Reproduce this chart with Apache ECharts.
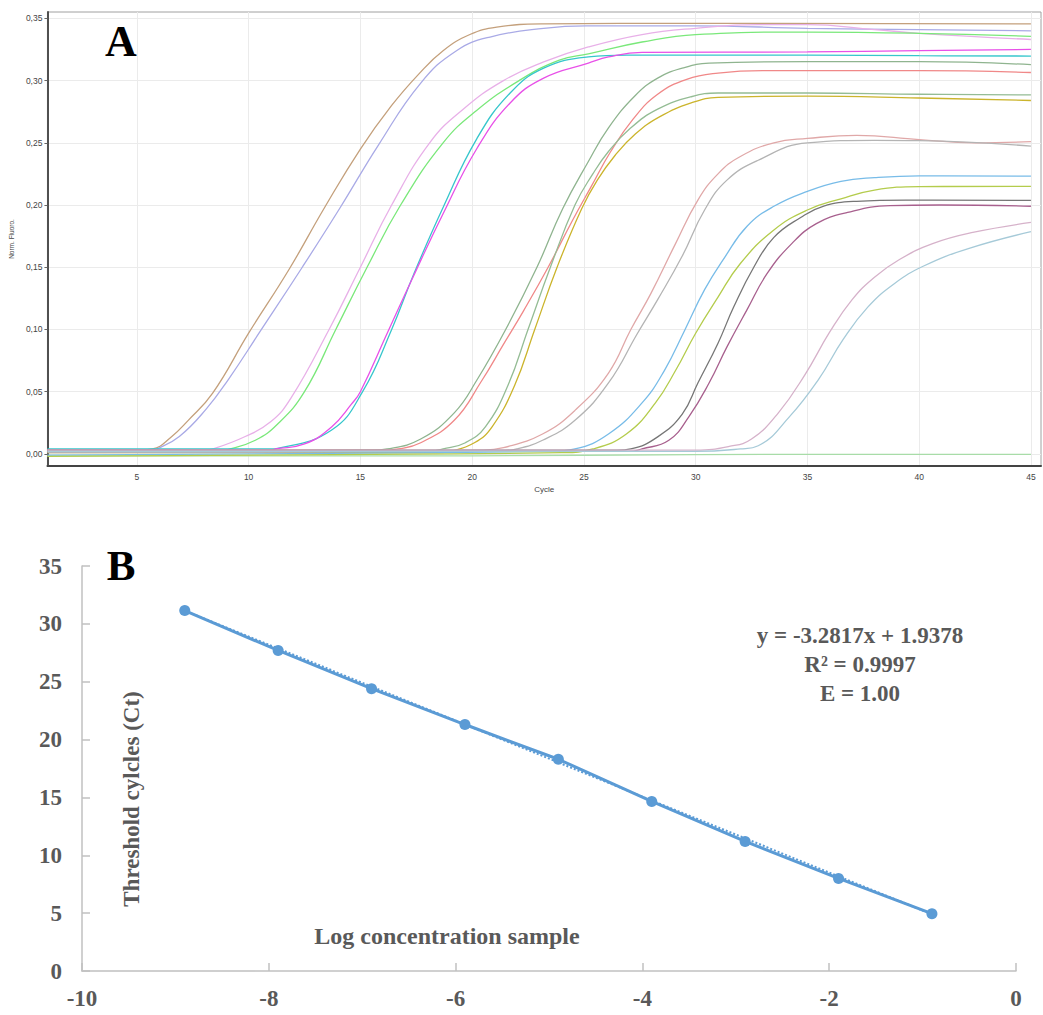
<!DOCTYPE html>
<html>
<head>
<meta charset="utf-8">
<script src="https://cdn.jsdelivr.net/npm/echarts@6/dist/echarts.min.js"></script>
<style>
html,body{margin:0;padding:0;background:#fff;}
#chart{width:1043px;height:1015px;}
</style>
</head>
<body>
<div id="chart"></div>
<script>
// ---------- Panel A: amplification curves [cycle, normalized fluorescence] ----------
const curveBrown = [[1,0.003],[5,0.003],[5.7,0.004],[6.5,0.013],[7.3,0.027],[8.4,0.049],[10,0.097],[11.8,0.148],[13.4,0.198],[15,0.245],[16.4,0.28],[17.6,0.305],[18.7,0.324],[19.9,0.337],[21.1,0.343],[23.2,0.3455],[30,0.346],[45,0.3455]];
const curveLavender = [[1,0.002],[5.5,0.002],[5.9,0.004],[6.9,0.014],[8.1,0.036],[9.1,0.06],[10.5,0.098],[12.4,0.15],[14.1,0.198],[15.8,0.248],[17.7,0.298],[19.3,0.324],[20.8,0.335],[23.2,0.342],[25.1,0.344],[30,0.344],[35,0.342],[40,0.341],[45,0.340]];
const curvePink = [[1,0.003],[8,0.003],[8.4,0.004],[9.85,0.014],[11,0.026],[11.9,0.045],[13.6,0.10],[15,0.15],[16.4,0.20],[18.1,0.25],[19.6,0.277],[21.4,0.30],[23.2,0.315],[25.2,0.327],[27.6,0.337],[30,0.342],[32.8,0.345],[35,0.345],[38,0.341],[40,0.338],[45,0.333]];
const curveGreen = [[1,0.002],[8.6,0.002],[9,0.003],[10.3,0.011],[11.3,0.024],[12.5,0.05],[13.9,0.10],[15.3,0.15],[16.8,0.20],[18.7,0.25],[20.2,0.276],[22.1,0.30],[23.9,0.3165],[25.2,0.3215],[27.6,0.331],[30,0.337],[35,0.339],[40,0.338],[45,0.3355]];
const curveMagenta = [[1,0.003],[11,0.003],[11.2,0.004],[12.5,0.008],[13.7,0.0215],[14.6,0.040],[15,0.05],[16.2,0.097],[17.3,0.14],[18.7,0.193],[20.2,0.245],[21.7,0.282],[23.2,0.302],[25.2,0.314],[26.1,0.319],[27.6,0.3227],[35,0.323],[40,0.324],[45,0.325]];
const curveCyan = [[1,0.004],[11,0.004],[11.3,0.0045],[13.7,0.019],[15.1,0.05],[16.4,0.10],[17.4,0.145],[18.7,0.198],[20.2,0.253],[21.7,0.29],[23.2,0.31],[25.2,0.319],[26.9,0.3205],[35,0.3205],[40,0.320],[45,0.3197]];
const curveDarkGreen = [[1,0.002],[15.5,0.003],[16.2,0.004],[17.7,0.012],[19.2,0.033],[20.2,0.059],[21.5,0.10],[22.9,0.15],[24.05,0.197],[25.2,0.235],[26.1,0.262],[27.3,0.288],[28.3,0.302],[29.4,0.31],[30.6,0.314],[35,0.3152],[40,0.3152],[45,0.3128]];
const curveRed = [[1,0.003],[16,0.003],[16.7,0.004],[17.7,0.009],[19.2,0.027],[20.4,0.058],[21.4,0.088],[22.3,0.115],[23.4,0.15],[24.5,0.188],[25.3,0.214],[26.2,0.243],[27.2,0.269],[28.3,0.289],[29.6,0.301],[31,0.306],[33,0.308],[40,0.308],[45,0.3065]];
const curveGreen2 = [[1,0.002],[18,0.002],[18.7,0.004],[19.7,0.009],[20.6,0.022],[21.6,0.055],[22.5,0.10],[23.5,0.15],[24.6,0.20],[25.4,0.225],[26.1,0.243],[27.1,0.262],[28.3,0.277],[29.8,0.287],[31,0.290],[35,0.290],[40,0.289],[45,0.2885]];
const curveYellow = [[1,0.001],[18.5,0.001],[19,0.002],[20.1,0.009],[20.9,0.022],[21.9,0.055],[22.8,0.10],[23.8,0.15],[24.9,0.197],[25.6,0.22],[26.4,0.24],[27.3,0.257],[28.4,0.271],[29.8,0.282],[31,0.2865],[35,0.2875],[40,0.286],[45,0.284]];
const curvePink2 = [[1,0.002],[20.5,0.003],[21.4,0.005],[23.15,0.016],[24.6,0.035],[26.1,0.065],[27.1,0.10],[28.0,0.129],[29.1,0.169],[30.1,0.204],[31.0,0.225],[32.0,0.239],[33.5,0.25],[35,0.2535],[37.2,0.256],[40,0.2525],[42.5,0.250],[45,0.251]];
const curveGray = [[1,0.001],[21,0.002],[22,0.004],[23.15,0.011],[24.6,0.027],[26.1,0.057],[27.4,0.097],[28.3,0.124],[29.4,0.159],[30.4,0.196],[31.4,0.22],[32.8,0.236],[35,0.25],[38,0.252],[40,0.2517],[45,0.2474]];
const curveLightBlue = [[1,-0.001],[23.5,0.002],[24.6,0.004],[26.1,0.016],[27.6,0.041],[28.6,0.067],[29.5,0.099],[30.4,0.132],[31.3,0.158],[32.3,0.183],[33.5,0.199],[35,0.211],[36.5,0.219],[38,0.222],[40,0.2235],[45,0.2232]];
const curveYellowGreen = [[1,-0.002],[24,0.001],[25.4,0.004],[26.9,0.016],[28.2,0.041],[29.1,0.067],[30,0.097],[31,0.126],[32,0.153],[33.5,0.18],[35,0.196],[36.5,0.205],[38,0.212],[40,0.2148],[45,0.2150]];
const curveDarkGray = [[1,0.003],[26.5,0.003],[27.1,0.004],[28.3,0.0137],[29.4,0.032],[30.1,0.057],[31,0.089],[31.7,0.118],[32.6,0.15],[33.5,0.174],[34.7,0.19],[35.7,0.199],[37.2,0.203],[39.4,0.204],[45,0.2037]];
const curveMauve = [[1,0.002],[27,0.002],[27.6,0.004],[28.8,0.011],[29.7,0.03],[30.6,0.057],[31.4,0.086],[32.3,0.116],[33.2,0.145],[34.3,0.169],[35.4,0.185],[36.8,0.194],[38.7,0.1995],[40.9,0.2],[45,0.199]];
const curvePinkMauve = [[1,0.003],[30,0.003],[31.5,0.006],[32.5,0.012],[33.7,0.033],[34.9,0.064],[36.0,0.098],[37.0,0.124],[38.0,0.142],[39.1,0.156],[40.6,0.169],[42.4,0.178],[45,0.186]];
const curveLightTeal = [[1,0.002],[30,0.002],[32,0.004],[32.8,0.0066],[34.2,0.03],[35.5,0.06],[36.6,0.092],[37.7,0.118],[38.9,0.137],[40.2,0.151],[42.2,0.165],[45,0.1786]];
const curveNegative = [[1,-0.0015],[20,-0.0015],[30,-0.0005],[45,-0.0003]];

const topXTicks = [5,10,15,20,25,30,35,40,45];
const topYTicks = [0,0.05,0.10,0.15,0.20,0.25,0.30,0.35];

// ---------- Panel B: standard curve ----------
const logConc = [-8.9,-7.9,-6.9,-5.9,-4.9,-3.9,-2.9,-1.9,-0.9];
const ctValues = [31.15,27.7,24.4,21.3,18.3,14.65,11.2,8.0,4.95];
const trendX = [-8.9,-0.9];
const trendY = [31.15,4.9];
const equationLines = ['y = -3.2817x + 1.9378','R\u00B2 = 0.9997','E = 1.00'];

// ---------- styles ----------
const curves = [
  [curveNegative,'#a8dca8'],
  [curveBrown,'#c4a07c'],[curveLavender,'#a9aae6'],
  [curvePink,'#e8b0e8'],[curveGreen,'#7ae87a'],
  [curveCyan,'#36c6cc'],[curveMagenta,'#e850e8'],
  [curveDarkGreen,'#8fb48f'],[curveRed,'#f08888'],
  [curveGreen2,'#94bc94'],[curveYellow,'#cbb42c'],
  [curvePink2,'#e0a8a8'],[curveGray,'#b4b4b4'],
  [curveLightBlue,'#78bce8'],[curveYellowGreen,'#b4cc4c'],
  [curveDarkGray,'#767676'],[curveMauve,'#a8608e'],
  [curvePinkMauve,'#d6b2ca'],[curveLightTeal,'#a6cad8']
];

const serif = '"Liberation Serif", "Times New Roman", serif';
const sans = '"Liberation Sans", "DejaVu Sans", sans-serif';

const series = curves.map(([d,c]) => ({
  type:'line', xAxisIndex:0, yAxisIndex:0, data:d,
  showSymbol:false, smooth:0.45, silent:true,
  lineStyle:{color:c, width:1.3}, z:3
}));

series.push({
  type:'line', xAxisIndex:1, yAxisIndex:1,
  data: trendX.map((x,i)=>[x,trendY[i]]),
  showSymbol:false, silent:true,
  lineStyle:{color:'#5b9bd5', width:2, type:'dotted'}, z:2
});
series.push({
  type:'line', xAxisIndex:1, yAxisIndex:1,
  data: logConc.map((x,i)=>[x,ctValues[i]]),
  symbol:'circle', symbolSize:11, showSymbol:true, silent:true,
  itemStyle:{color:'#5b9bd5'},
  lineStyle:{color:'#5b9bd5', width:3}, z:4
});

const chart = echarts.init(document.getElementById('chart'), null, {renderer:'svg'});
chart.setOption({
  animation:false,
  backgroundColor:'#fff',
  grid:[
    {left:40, top:12, width:1001, height:454, show:true, borderColor:'#a0a0a0', borderWidth:1, backgroundColor:'rgba(0,0,0,0)', containLabel:false},
    {left:82, top:566, width:934, height:405, containLabel:false}
  ],
  xAxis:[
    {type:'value', gridIndex:0, min:1, max:45.45,
     name:'Cycle', nameLocation:'middle', nameGap:19,
     nameTextStyle:{fontFamily:sans, fontSize:8, color:'#444'},
     axisLine:{show:true, onZero:false, lineStyle:{color:'#444', width:2}},
     axisTick:{show:false, customValues:topXTicks},
     axisLabel:{customValues:topXTicks, fontFamily:sans, fontSize:8.5, color:'#444', margin:6},
     splitLine:{show:true, lineStyle:{color:'#ebebeb', width:1}}},
    {type:'value', gridIndex:1, min:-10, max:0, interval:2,
     axisLine:{show:true, onZero:false, lineStyle:{color:'#c0c0c0', width:1.5}},
     axisTick:{show:true, inside:true, length:8, lineStyle:{color:'#c0c0c0', width:1.5}},
     axisLabel:{fontFamily:serif, fontWeight:'bold', fontSize:23, color:'#595959', margin:16},
     splitLine:{show:false}}
  ],
  yAxis:[
    {type:'value', gridIndex:0, min:-0.0097, max:0.3551,
     name:'Norm. Fluoro.', nameLocation:'middle', nameGap:27, nameRotate:90,
     nameTextStyle:{fontFamily:sans, fontSize:6.5, color:'#444'},
     axisLine:{show:true, onZero:false, lineStyle:{color:'#505050', width:2}},
     axisTick:{show:true, length:3, customValues:topYTicks, lineStyle:{color:'#666'}},
     axisLabel:{customValues:topYTicks, fontFamily:sans, fontSize:8.5, color:'#444', margin:5,
       formatter:v=>v.toFixed(2).replace('.',',')},
     splitLine:{show:true, lineStyle:{color:'#ebebeb', width:1}}},
    {type:'value', gridIndex:1, min:0, max:35, interval:5,
     axisLine:{show:true, onZero:false, lineStyle:{color:'#c0c0c0', width:1.5}},
     axisTick:{show:true, inside:true, length:8, lineStyle:{color:'#c0c0c0', width:1.5}},
     axisLabel:{fontFamily:serif, fontWeight:'bold', fontSize:23, color:'#595959', margin:20},
     splitLine:{show:false}}
  ],
  graphic:[
    {type:'text', x:121, y:41, style:{text:'A', font:'bold 44px '+serif, fill:'#000', align:'center', verticalAlign:'middle'}},
    {type:'text', x:121, y:565, style:{text:'B', font:'bold 43px '+serif, fill:'#000', align:'center', verticalAlign:'middle'}},
    {type:'text', x:860, y:635, style:{text:equationLines[0], font:'bold 23px '+serif, fill:'#595959', align:'center', verticalAlign:'middle'}},
    {type:'text', x:860, y:664, style:{text:equationLines[1], font:'bold 23px '+serif, fill:'#595959', align:'center', verticalAlign:'middle'}},
    {type:'text', x:860, y:693, style:{text:equationLines[2], font:'bold 23px '+serif, fill:'#595959', align:'center', verticalAlign:'middle'}},
    {type:'text', x:131, y:799, rotation:Math.PI/2, style:{text:'Threshold cylcles (Ct)', font:'bold 23px '+serif, fill:'#595959', align:'center', verticalAlign:'middle'}},
    {type:'text', x:447, y:936, style:{text:'Log concentration sample', font:'bold 24px '+serif, fill:'#595959', align:'center', verticalAlign:'middle'}}
  ],
  series: series
});
</script>
</body>
</html>
